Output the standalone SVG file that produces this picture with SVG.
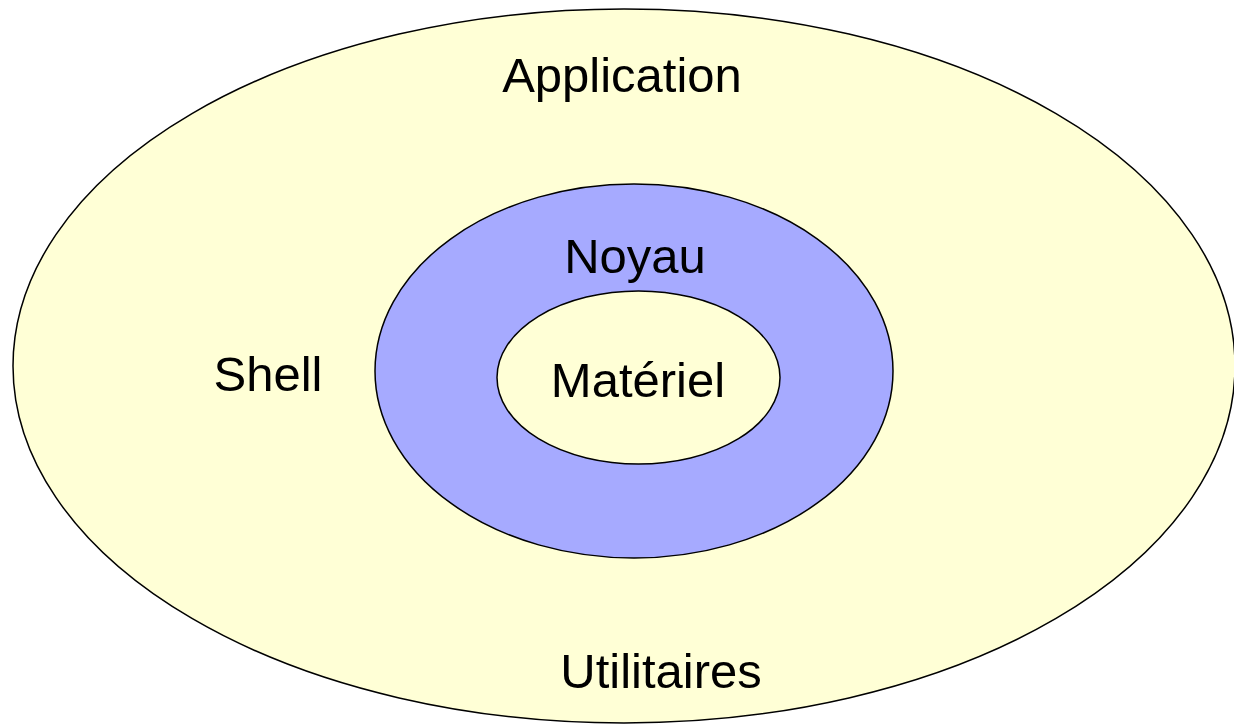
<svg xmlns="http://www.w3.org/2000/svg" width="1234" height="727" viewBox="0 0 1234 727">
<style>
.e{stroke:#000;stroke-width:1.5}
.y{fill:#FFFFD6}
.b{fill:#A6AAFF}
text{font-family:"Liberation Sans",Arial,sans-serif;font-size:49px;fill:#000;text-anchor:middle}
</style>
<rect width="1234" height="727" fill="#fff"/>
<g id="application">
<ellipse class="e y" cx="624" cy="366" rx="611" ry="357"/>
<text x="622" y="92">Application</text>
<text x="268" y="391">Shell</text>
<text x="661" y="688">Utilitaires</text>
</g>
<g id="noyau">
<ellipse class="e b" cx="634" cy="371" rx="259" ry="187"/>
<text x="635" y="273">Noyau</text>
</g>
<g id="materiel">
<ellipse class="e y" cx="638.5" cy="377.5" rx="141.5" ry="86.5"/>
<text x="638" y="397">Matériel</text>
</g>
<g id="connectors"/>
</svg>
